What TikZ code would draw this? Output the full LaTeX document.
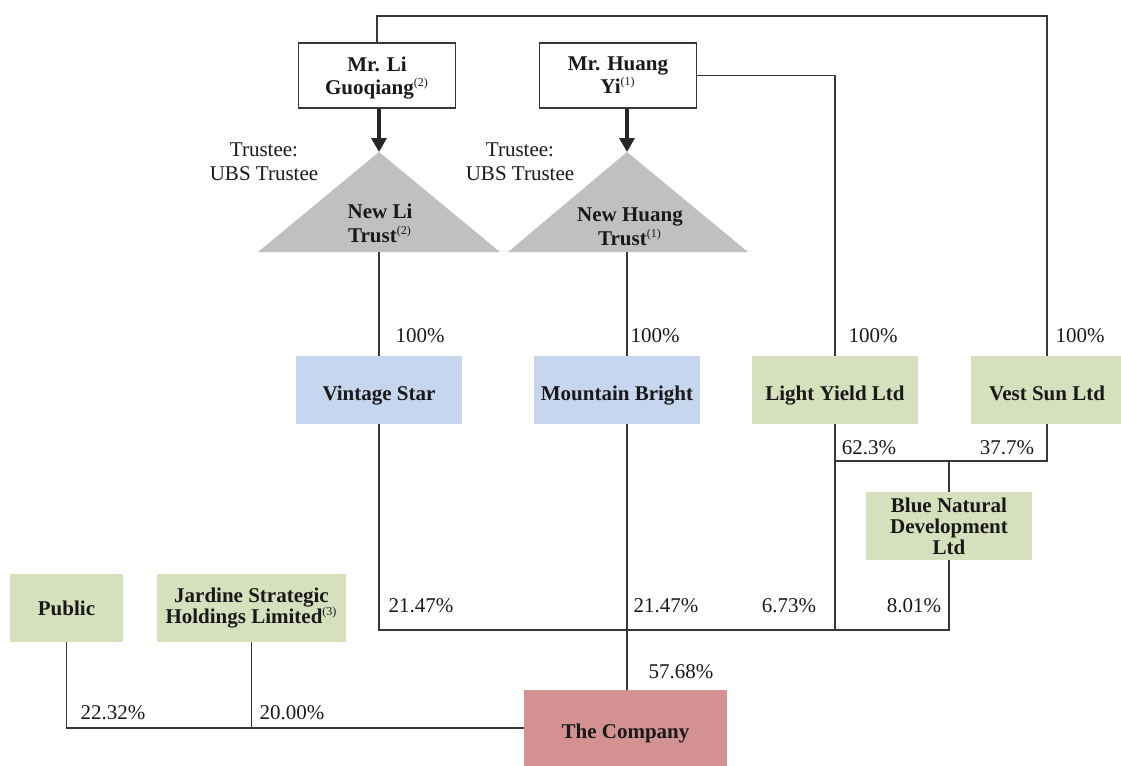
\documentclass[tikz,border=0pt]{standalone}
\usepackage{fontspec}
\setmainfont{Liberation Serif}
\usetikzlibrary{positioning,arrows.meta}
\definecolor{inkgray}{HTML}{3A3536}
\definecolor{boxblue}{HTML}{C6D6EE}
\definecolor{boxgreen}{HTML}{D6E0BD}
\definecolor{boxpink}{HTML}{D39192}
\definecolor{trustgray}{HTML}{C0C0C0}
\newcommand\fn[1]{\textsuperscript{\normalfont\fontsize{6}{6}\selectfont(#1)}}
\tikzset{
every node/.style={font=\fontsize{10.5}{12}\selectfont, text=black!90}, % plain labels
owner/.style={draw=inkgray, line width=0.75pt, fill=white, minimum width=78.5pt, minimum height=32.5pt, text depth=0pt, align=center, font=\fontsize{10.5}{11.5}\selectfont\bfseries}, % the two persons
firm/.style={minimum width=83pt, minimum height=34pt, align=center, inner sep=1pt, font=\fontsize{10.5}{10.5}\selectfont\bfseries}, % company boxes
oneline/.style={text height=10.5pt, text depth=0.5pt}, % single line names sit a little low
bluefirm/.style={firm, fill=boxblue},
greenfirm/.style={firm, fill=boxgreen},
link/.style={draw=inkgray, line width=0.6pt}, % holding lines
settles/.style={draw=black!85, line width=1.6pt, -{Triangle[width=7.5pt,length=7pt]}}, % settlor arrow
}

\begin{document}
\begin{tikzpicture}[x=0.5pt, y=-0.5pt]
  \useasboundingbox (0,0) rectangle (1121,766);

  % persons
  \node[owner] (li) at (377,75.5) {Mr. Li\\Guoqiang\fn{2}};
  \node[owner] (huang) at (618,75.5) {Mr. Huang\\Yi\fn{1}};

  % trusts
  \coordinate (litop) at (379,152);
  \coordinate (libase) at (379,252);
  \coordinate (hgtop) at (627,152);
  \coordinate (hgbase) at (627,252);
  \fill[trustgray] (258,252) -- (litop) -- (500,252) -- cycle;
  \fill[trustgray] (508,252) -- (hgtop) -- (748,252) -- cycle;
  \node[font=\fontsize{10.5}{12}\selectfont\bfseries, align=center] (litrust) at (380,223) {New Li\\Trust\fn{2}};
  \node[font=\fontsize{10.5}{12}\selectfont\bfseries, align=center] (hgtrust) at (630,227) {New Huang\\Trust\fn{1}};
  \node[align=center] (litrustee) at (264,162) {Trustee:\\UBS Trustee};
  \node[align=center] (hgtrustee) at (520,162) {Trustee:\\UBS Trustee};

  % holding companies
  \node[bluefirm, oneline] (vintage) at (379,390) {Vintage Star};
  \node[bluefirm, oneline] (mountain) at (617,390) {Mountain Bright};
  \node[greenfirm, oneline] (light) at (835,390) {Light Yield Ltd};
  \node[greenfirm, oneline, minimum width=76pt] (vest) at (1047,390) {Vest Sun Ltd};
  \node[greenfirm] (bluenat) at (949,526) {Blue Natural\\Development\\Ltd};
  \node[greenfirm, minimum width=56.5pt] (public) at (66.5,608) {Public};
  \node[greenfirm, minimum width=94.5pt] (jardine) at (251.5,608) {Jardine Strategic\\Holdings Limited\fn{3}};
  \node[firm, oneline, fill=boxpink, minimum width=101.5pt, minimum height=38pt] (company) at (625.5,728) {The Company};

  \coordinate (topbar) at (0,16);
  \coordinate (bnjoin) at (0,461);
  \coordinate (lowbar) at (0,630);

  % settlor arrows
  \draw[settles] (li.south -| litop) -- (litop);
  \draw[settles] (huang.south -| hgtop) -- (hgtop);

  % lines of ownership
  \draw[link] (li.north) |- (topbar -| vest.north) -- (vest.north);
  \draw[link] (huang.east) -| (light.north);
  \draw[link] (libase) -- (vintage.north);
  \draw[link] (hgbase) -- (mountain.north -| hgbase);
  \draw[link] (light.south |- bnjoin) -| (vest.south);
  \draw[link] (bluenat.north) -- (bluenat.north |- bnjoin);
  \draw[link] (vintage.south) |- (lowbar -| bluenat.south) -- (bluenat.south);
  \draw[link] (light.south) -- (light.south |- lowbar);
  \draw[link] (mountain.south -| hgbase) -- (company.north -| hgbase);
  \draw[link] (public.south) |- (company.west);
  \draw[link] (jardine.south) -- (jardine.south |- company.west);

  % percentages
  \node (p1) at (420,336) {100\%};
  \node (p2) at (655,336) {100\%};
  \node (p3) at (873,336) {100\%};
  \node (p4) at (1080,336) {100\%};
  \node (p5) at (869,448) {62.3\%};
  \node (p6) at (1007,448) {37.7\%};
  \node (p7) at (421,606) {21.47\%};
  \node (p8) at (666,606) {21.47\%};
  \node (p9) at (789,606) {6.73\%};
  \node (p10) at (914,606) {8.01\%};
  \node (p11) at (681,672) {57.68\%};
  \node (p12) at (113,713) {22.32\%};
  \node (p13) at (292,713) {20.00\%};
\end{tikzpicture}
\end{document}
